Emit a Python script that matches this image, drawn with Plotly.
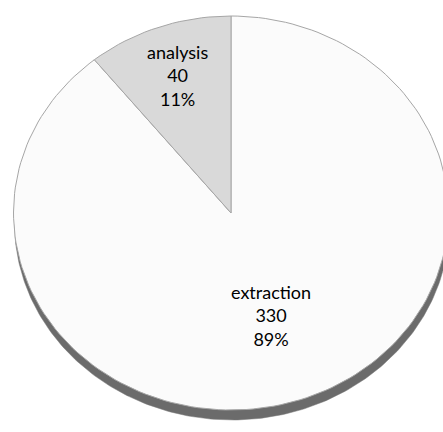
import numpy as np
import plotly.graph_objects as go

categories = ["extraction", "analysis"]
values = [330, 40]
fill_colors = ["#fbfbfb", "#d9d9d9"]
label_radius = [0.55, 0.74]

W, H = 443, 432
cx, cy, rx, ry = 231, 213, 217.5, 197
shadow_dx, shadow_dy = 1.0, 10.0

total = sum(values)
fig = go.Figure()

# shadow (depth) ellipse
t = np.linspace(0, 2 * np.pi, 400)
fig.add_trace(go.Scatter(
    x=np.cos(t) + shadow_dx / rx, y=np.sin(t) - shadow_dy / ry,
    mode="lines", fill="toself", fillcolor="#6b6b6b",
    line=dict(color="#7a7a7a", width=0.5), hoverinfo="skip", showlegend=False))

# slices: clockwise from 12 o'clock
start = np.pi / 2
annotations = []
for cat, val, col, lr in zip(categories, values, fill_colors, label_radius):
    sweep = 2 * np.pi * val / total
    ang = np.linspace(start, start - sweep, max(int(200 * val / total), 8))
    xs = np.concatenate([[0], np.cos(ang), [0]])
    ys = np.concatenate([[0], np.sin(ang), [0]])
    fig.add_trace(go.Scatter(
        x=xs, y=ys, mode="lines", fill="toself", fillcolor=col,
        line=dict(color="#a6a6a6", width=1), name=cat,
        hoverinfo="name", showlegend=False))
    mid = start - sweep / 2
    pct = round(100 * val / total)
    annotations.append(dict(
        x=lr * np.cos(mid), y=lr * np.sin(mid), xref="x", yref="y",
        text=f"{cat}<br>{val}<br>{pct}%", showarrow=False,
        font=dict(family="Lato", size=18, color="#000000"),
        align="center"))
    start -= sweep

fig.update_layout(
    width=W, height=H, margin=dict(l=0, r=0, t=0, b=0),
    paper_bgcolor="white", plot_bgcolor="white",
    xaxis=dict(range=[-cx / rx, (W - cx) / rx], visible=False, fixedrange=True),
    yaxis=dict(range=[-(H - cy) / ry, cy / ry], visible=False, fixedrange=True),
    annotations=annotations, showlegend=False)

fig.write_html("out.html")
